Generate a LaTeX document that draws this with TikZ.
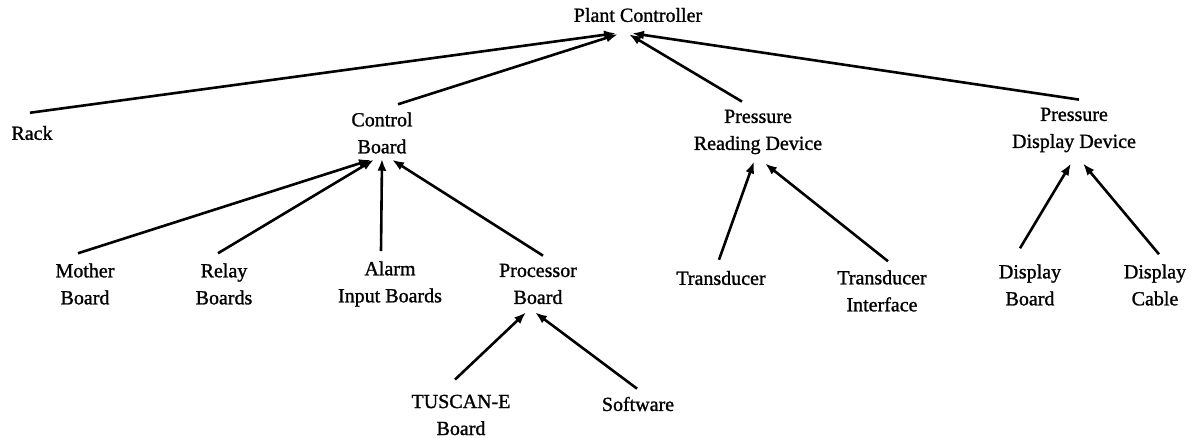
\documentclass[tikz,border=0pt]{standalone}
\usepackage{fontspec}
\setmainfont{Liberation Serif}[BoldFont=Liberation Serif,BoldFeatures={FakeBold=1.2}]
\usetikzlibrary{arrows.meta}
\begin{document}
\begin{tikzpicture}[x=1pt,y=-1pt,
  lbl/.style={inner sep=0pt,align=center,font=\fontsize{20}{27}\selectfont\bfseries},
  arr/.style={line width=2.6pt,-{Latex[length=12pt,width=9pt]}}]
\useasboundingbox (0,0) rectangle (1195,438);
\node[lbl] (plant) at (638,15) {Plant Controller};
\node[lbl] (rack) at (32,133) {Rack};
\node[lbl] (ctrl) at (382,133) {Control\\Board};
\node[lbl] (prd) at (758,132) {Pressure\\Reading Device};
\node[lbl] (pdd) at (1074,130) {Pressure\\Display Device};
\node[lbl] (mother) at (85,284) {Mother\\Board};
\node[lbl] (relay) at (224,284) {Relay\\Boards};
\node[lbl] (alarm) at (390,284) {Alarm\\Input Boards};
\node[lbl] (proc) at (538,284) {Processor\\Board};
\node[lbl] (trans) at (721,278) {Transducer};
\node[lbl] (ti) at (882,291) {Transducer\\Interface};
\node[lbl] (db) at (1030,285) {Display\\Board};
\node[lbl] (dc) at (1155,285) {Display\\Cable};
\node[lbl] (tuscan) at (461,415) {TUSCAN-E\\Board};
\node[lbl] (soft) at (638,404) {Software};
% level 1
\draw[arr] ([xshift=-2pt,yshift=13pt]rack.north) -- ([xshift=-22pt,yshift=-11pt]plant.south);
\draw[arr] ([xshift=16pt,yshift=8pt]ctrl.north) -- ([xshift=-20pt,yshift=-12pt]plant.south);
\draw[arr] ([xshift=-16pt,yshift=8pt]prd.north) -- ([xshift=-9pt,yshift=-12pt]plant.south);
\draw[arr] ([xshift=5pt,yshift=8pt]pdd.north) -- ([xshift=-6pt,yshift=-11pt]plant.south);
% control board
\draw[arr] ([xshift=-7pt,yshift=10pt]mother.north) -- ([xshift=-11pt,yshift=-6pt]ctrl.south);
\draw[arr] ([xshift=-6pt,yshift=10pt]relay.north) -- ([xshift=-8pt,yshift=-6pt]ctrl.south);
\draw[arr] ([xshift=-9pt,yshift=10pt]alarm.north) -- ([xshift=0pt,yshift=-5pt]ctrl.south);
\draw[arr] ([xshift=5pt,yshift=8pt]proc.north) -- ([xshift=10pt,yshift=-6pt]ctrl.south);
% processor board
\draw[arr] ([xshift=-6pt,yshift=15pt]tuscan.north) -- ([xshift=-12pt,yshift=-8pt]proc.south);
\draw[arr] ([xshift=-1pt,yshift=8pt]soft.north) -- ([xshift=-3pt,yshift=-8pt]proc.south);
% pressure reading device
\draw[arr] ([xshift=-2pt,yshift=11pt]trans.north) -- ([xshift=-4pt,yshift=-7pt]prd.south);
\draw[arr] ([xshift=6pt,yshift=9pt]ti.north) -- ([xshift=7pt,yshift=-9pt]prd.south);
% pressure display device
\draw[arr] ([xshift=-10pt,yshift=16pt]db.north) -- ([xshift=-3pt,yshift=-11pt]pdd.south);
\draw[arr] ([xshift=4pt,yshift=10pt]dc.north) -- ([xshift=9pt,yshift=-11pt]pdd.south);
\end{tikzpicture}
\end{document}
